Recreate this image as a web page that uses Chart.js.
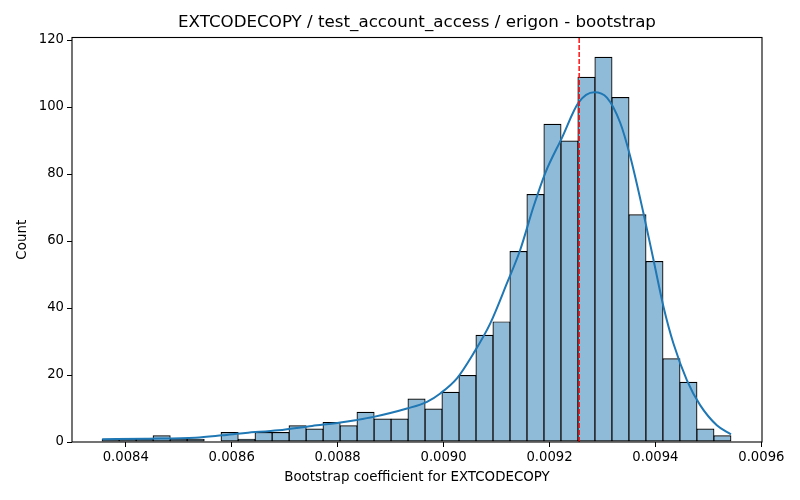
<!DOCTYPE html>
<html>
<head>
<meta charset="utf-8">
<script src="https://cdn.jsdelivr.net/npm/chart.js@4.4.0/dist/chart.umd.min.js"></script>
<style>
  html, body { margin: 0; padding: 0; background: #fff; }
  #wrap { width: 800px; height: 500px; }
</style>
</head>
<body>
<div id="wrap"><canvas id="chart" width="800" height="500"></canvas></div>
<script>
// === Data ===
const binCenters = [
  0.00837154, 0.00840362, 0.00843570, 0.00846778, 0.00849986, 0.00853194,
  0.00856402, 0.00859610, 0.00862818, 0.00866026, 0.00869234, 0.00872442,
  0.00875650, 0.00878858, 0.00882066, 0.00885274, 0.00888482, 0.00891690,
  0.00894898, 0.00898106, 0.00901314, 0.00904522, 0.00907730, 0.00910938,
  0.00914146, 0.00917354, 0.00920562, 0.00923770, 0.00926978, 0.00930186,
  0.00933394, 0.00936602, 0.00939810, 0.00943018, 0.00946226, 0.00949434,
  0.00952642
];
const binCounts = [
  1, 1, 1, 2, 1, 1, 0, 3, 1, 3, 3, 5, 4, 6, 5, 9, 7, 7, 13, 10,
  15, 20, 32, 36, 57, 74, 95, 90, 109, 115, 103, 68, 54, 25, 18, 4, 2
];

const kdeX = [
  0.0083555, 0.0084372, 0.0085315, 0.0085820, 0.0086259, 0.0086882,
  0.0087518, 0.0088052, 0.0088335, 0.0088680, 0.0089310, 0.0089687,
  0.0089938, 0.0090253, 0.0090567, 0.0090882, 0.0091197, 0.0091448,
  0.0091699, 0.0091920, 0.0092235, 0.0092548, 0.0092844, 0.0093084,
  0.0093335, 0.0093523, 0.0093774, 0.0093963, 0.0094152, 0.0094340,
  0.0094593, 0.0094844, 0.0095159, 0.0095426
];
const kdeY = [
  0.8, 1.0, 1.3, 2.0, 2.7, 3.5,
  4.8, 5.8, 6.5, 7.5, 10.0, 12.0,
  14.5, 19.0, 26.5, 35.4, 47.4, 57.4,
  70.3, 80.3, 90.8, 101.3, 104.4, 102.8,
  95.3, 85.3, 68.3, 54.4, 40.4, 29.4,
  18.5, 11.0, 5.0, 2.3
];

const refLineX = 0.009256;

const xTicks = [0.0084, 0.0086, 0.0088, 0.0090, 0.0092, 0.0094, 0.0096];
const yTicks = [0, 20, 40, 60, 80, 100, 120];

const titleText = "EXTCODECOPY / test_account_access / erigon - bootstrap";
const xLabel = "Bootstrap coefficient for EXTCODECOPY";
const yLabel = "Count";

// === Chart ===
const FONT = "'DejaVu Sans', sans-serif";

// full box around the plot + title centred over the axes, like matplotlib
const frameBox = {
  id: "frameBox",
  afterDatasetsDraw(chart) {
    const { ctx, chartArea: a } = chart;
    ctx.save();
    ctx.strokeStyle = "#000";
    ctx.lineWidth = 1.1;
    ctx.strokeRect(a.left, a.top, a.right - a.left, a.bottom - a.top);
    ctx.fillStyle = "#000";
    ctx.font = "16.7px " + FONT;
    ctx.textAlign = "center";
    ctx.textBaseline = "middle";
    ctx.fillText(titleText, (a.left + a.right) / 2, 22.5);
    ctx.restore();
  }
};

const ctx = document.getElementById("chart").getContext("2d");
new Chart(ctx, {
  type: "bar",
  data: {
    datasets: [
      {
        type: "line",
        label: "ref",
        data: [{ x: refLineX, y: 0 }, { x: refLineX, y: 120.75 }],
        borderColor: "#ff0000",
        borderWidth: 1.4,
        borderDash: [5, 2],
        pointRadius: 0,
        order: 0
      },
      {
        type: "line",
        label: "kde",
        data: kdeX.map((x, i) => ({ x, y: kdeY[i] })),
        borderColor: "#1f77b4",
        borderWidth: 2,
        pointRadius: 0,
        cubicInterpolationMode: "monotone",
        order: 1
      },
      {
        type: "bar",
        label: "count",
        data: binCenters.map((x, i) => ({ x, y: binCounts[i] })),
        backgroundColor: "rgba(31,119,180,0.5)",
        borderColor: "#000",
        borderWidth: 1.2,
        borderSkipped: false,
        barPercentage: 1.06,
        categoryPercentage: 1,
        order: 2
      }
    ]
  },
  options: {
    responsive: false,
    animation: false,
    layout: { padding: { left: 0, right: 38, top: 37.5, bottom: 0 } },
    plugins: {
      legend: { display: false },
      tooltip: { enabled: false },
      title: { display: false }
    },
    scales: {
      x: {
        type: "linear",
        min: 0.0082985,
        max: 0.0096012,
        offset: false,
        afterFit(scale) { scale.height = 58; },
        afterBuildTicks(scale) { scale.ticks = xTicks.map(v => ({ value: v })); },
        grid: { display: true, offset: false, drawOnChartArea: false, drawTicks: true, tickLength: 5, color: "#000", tickWidth: 1 },
        border: { display: false },
        ticks: {
          color: "#000",
          font: { family: FONT, size: 13.2 },
          padding: 3,
          maxRotation: 0,
          autoSkip: false,
          callback: v => v.toFixed(4)
        },
        title: {
          display: true,
          text: xLabel,
          color: "#000",
          font: { family: FONT, size: 13.4 },
          padding: { top: 0, bottom: 14 }
        }
      },
      y: {
        type: "linear",
        min: 0,
        max: 120.75,
        afterFit(scale) { scale.width = 72; },
        afterBuildTicks(scale) { scale.ticks = yTicks.map(v => ({ value: v })); },
        grid: { display: true, offset: false, drawOnChartArea: false, drawTicks: true, tickLength: 5, color: "#000", tickWidth: 1 },
        border: { display: false },
        ticks: {
          color: "#000",
          font: { family: FONT, size: 13.2 },
          padding: 3
        },
        title: {
          display: true,
          text: yLabel,
          color: "#000",
          font: { family: FONT, size: 13.4 },
          padding: { top: 14, bottom: 6 }
        }
      }
    }
  },
  plugins: [frameBox]
});
</script>
</body>
</html>
